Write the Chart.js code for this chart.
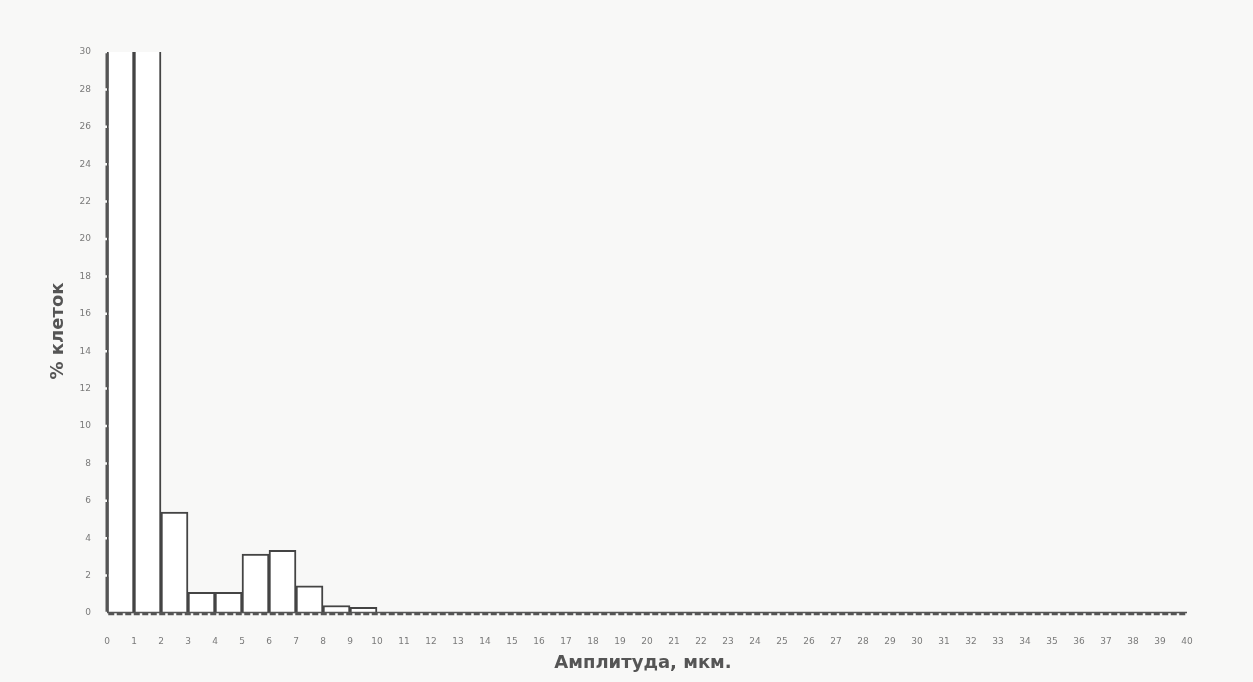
<!DOCTYPE html>
<html>
<head>
<meta charset="utf-8">
<script src="https://cdn.jsdelivr.net/npm/chart.js@4.4.0/dist/chart.umd.min.js"></script>
<style>
  html, body { margin: 0; padding: 0; background: #f8f8f7; }
  #wrap { width: 1253px; height: 682px; position: relative; }
</style>
</head>
<body>
<div id="wrap"><canvas id="hist"></canvas></div>
<script>
// бины гистограммы: левые границы 0..39, ширина 1 мкм
const binStarts = Array.from({ length: 40 }, (_, i) => i);
// % клеток в каждом бине (первые два уходят за верх шкалы)
const percentCells = [
  45, 40, 5.4, 1.1, 1.1, 3.15, 3.35, 1.45, 0.4, 0.3,
  0, 0, 0, 0, 0, 0, 0, 0, 0, 0,
  0, 0, 0, 0, 0, 0, 0, 0, 0, 0,
  0, 0, 0, 0, 0, 0, 0, 0, 0, 0
];
const yMax = 30;
const yStep = 2;
const xLabel = 'Амплитуда, мкм.';
const yLabel = '% клеток';

// пунктирные оси + подписи осей (рисуем сами)
const axesDecor = {
  id: 'axesDecor',
  afterDatasetsDraw(chart) {
    const { ctx, chartArea, scales } = chart;
    const x0 = scales.x.getPixelForValue(0);
    const y0 = scales.y.getPixelForValue(0);
    const yTop = scales.y.getPixelForValue(yMax);
    const stepPx = scales.y.getPixelForValue(0) - scales.y.getPixelForValue(yStep);
    ctx.save();
    ctx.strokeStyle = '#555';
    ctx.lineWidth = 3;
    // ось Y: разрывы на делениях
    ctx.setLineDash([stepPx - 2.5, 2.5]);
    ctx.lineDashOffset = -1.25;
    ctx.beginPath();
    ctx.moveTo(x0, y0);
    ctx.lineTo(x0, yTop);
    ctx.stroke();
    // ось X: тонкая линия + мелкий пунктир под ней
    ctx.setLineDash([]);
    ctx.lineWidth = 1.5;
    ctx.beginPath();
    ctx.moveTo(x0, y0 - 0.5);
    ctx.lineTo(chartArea.right, y0 - 0.5);
    ctx.stroke();
    ctx.setLineDash([6, 2.5]);
    ctx.lineWidth = 2.5;
    ctx.beginPath();
    ctx.moveTo(x0, y0 + 1);
    ctx.lineTo(chartArea.right, y0 + 1);
    ctx.stroke();
    ctx.restore();
  },
  afterDraw(chart) {
    const { ctx } = chart;
    ctx.save();
    ctx.fillStyle = '#555';
    ctx.font = 'bold 18px "DejaVu Sans", sans-serif';
    ctx.textAlign = 'center';
    ctx.textBaseline = 'middle';
    ctx.fillText(xLabel, 643, 663);
    ctx.translate(58, 331);
    ctx.rotate(-Math.PI / 2);
    ctx.fillText(yLabel, 0, 0);
    ctx.restore();
  }
};

const points = binStarts.map((s, i) => ({ x: s + 0.5, y: percentCells[i] }));

new Chart(document.getElementById('hist'), {
  type: 'bar',
  data: {
    datasets: [{
      data: points,
      backgroundColor: '#ffffff',
      borderColor: '#444',
      borderWidth: 2,
      barPercentage: 1,
      categoryPercentage: 1
    }]
  },
  options: {
    responsive: true,
    maintainAspectRatio: false,
    animation: false,
    layout: { padding: { left: 0, right: 66, top: 52, bottom: 0 } },
    plugins: { legend: { display: false }, tooltip: { enabled: false } },
    scales: {
      x: {
        type: 'linear',
        min: 0,
        max: 40,
        offset: false,
        afterFit(scale) { scale.height = 69; },
        ticks: {
          stepSize: 1,
          autoSkip: false,
          maxRotation: 0,
          padding: 23,
          color: '#7a7a7a',
          font: { size: 9, family: 'DejaVu Sans' }
        },
        grid: { display: false, drawTicks: false },
        border: { display: false }
      },
      y: {
        min: 0,
        max: yMax,
        afterFit(scale) { scale.width = 107; },
        ticks: {
          stepSize: yStep,
          padding: 16,
          color: '#7a7a7a',
          font: { size: 9, family: 'DejaVu Sans' }
        },
        grid: { display: false, drawTicks: false },
        border: { display: false }
      }
    }
  },
  plugins: [axesDecor]
});
</script>
</body>
</html>
